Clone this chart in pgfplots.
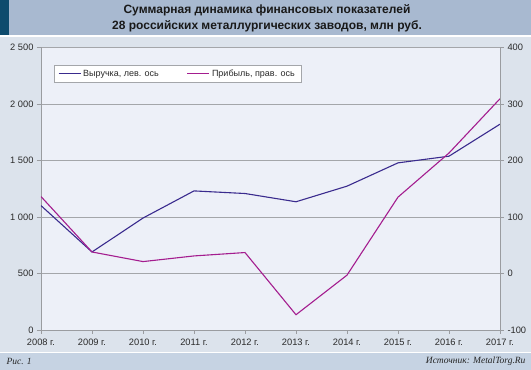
\documentclass[border=0pt]{standalone}
\usepackage{fontspec}
\setmainfont{Liberation Sans}
\newfontfamily\serifit{Liberation Serif}
\usepackage{pgfplots}
\pgfplotsset{compat=1.18}
\definecolor{titleband}{HTML}{A8B9D0}
\definecolor{stripe}{HTML}{0E4B6D}
\definecolor{mainbg}{HTML}{DCE3EC}
\definecolor{footband}{HTML}{C6D3E3}
\definecolor{plotbg}{HTML}{EDF0F8}
\definecolor{gridgray}{HTML}{A4A6AA}
\definecolor{axisgray}{HTML}{9A9CA0}
\definecolor{labelgray}{HTML}{2A2A2A}
\definecolor{revblue}{HTML}{3A2B8E}
\definecolor{profmag}{HTML}{A41D8F}
\pgfplotstableread{
x rev
0 1100
1 690
2 990
3 1230
4 1207
5 1134
6 1272
7 1478
8 1537
9 1820
}\revtable
\pgfplotstableread{
x prof
0 136
1 38
2 21
3 31
4 37
5 -73
6 -3
7 135
8 213
9 309
}\proftable
\begin{document}
\begin{tikzpicture}[x=1pt,y=1pt]
\useasboundingbox (0,0) rectangle (531,370);
\fill[mainbg] (0,0) rectangle (531,370);
\fill[titleband] (0,335) rectangle (531,370);
\fill[stripe] (0,335) rectangle (9,370);
\fill[white] (0,333) rectangle (531,335);
\fill[white] (0,17) rectangle (531,18.2);
\fill[footband] (0,0) rectangle (531,17);
\node[font=\bfseries\fontsize{12}{15.5}\selectfont, align=center, text=black!90] at (267,351.5) {Суммарная динамика финансовых показателей\\28 российских металлургических заводов, млн руб.};
\node[anchor=west, font=\serifit\itshape\fontsize{9.5}{10}\selectfont, text=black!85] at (3,8.3) {Рис. 1};
\node[anchor=east, font=\serifit\itshape\fontsize{9.5}{10}\selectfont, text=black!85] at (529,8.3) {Источник: MetalTorg.Ru};
\begin{axis}[
  at={(41pt,40pt)}, anchor=south west,
  scale only axis, width=459pt, height=282.7pt,
  axis background/.style={fill=plotbg},
  xmin=0, xmax=9, ymin=0, ymax=2500,
  xtick={0,...,9},
  xticklabels={2008 г.,2009 г.,2010 г.,2011 г.,2012 г.,2013 г.,2014 г.,2015 г.,2016 г.,2017 г.},
  ytick={0,500,1000,1500,2000,2500},
  yticklabels={0,500,1 000,1 500,2 000,2 500},
  axis y line*=left, axis x line*=bottom,
  ymajorgrids, grid style={color=gridgray, line width=0.6pt},
  axis line style={-, color=axisgray, line width=0.7pt},
  tick style={color=axisgray, line width=0.6pt},
  major tick length=4pt, tick align=outside,
  ticklabel style={font=\fontsize{9.3}{11}\selectfont, text=labelgray},
  xticklabel style={yshift=-1pt},
  /pgf/number format/assume math mode=true,
  legend style={at={(0.028,0.937)}, anchor=north west, draw=gridgray, fill=white,
    font=\fontsize{9}{10}\selectfont, text=labelgray, inner xsep=4pt, inner ysep=2.5pt,
    /tikz/every even column/.append style={column sep=26pt}},
  legend columns=2, legend cell align=left,
]
\addplot[revblue, line width=1.1pt, forget plot] table[x=x,y=rev] {\revtable};
\addlegendimage{revblue, line width=1.1pt, legend image code/.code={\draw[revblue, line width=1.1pt] (0pt,0pt) -- (22pt,0pt);}}
\addlegendentry{Выручка, лев. ось}
\addlegendimage{profmag, line width=1.1pt, legend image code/.code={\draw[profmag, line width=1.1pt] (0pt,0pt) -- (22pt,0pt);}}
\addlegendentry{Прибыль, прав. ось}
\end{axis}
\begin{axis}[
  at={(41pt,40pt)}, anchor=south west,
  scale only axis, width=459pt, height=282.7pt,
  xmin=0, xmax=9, ymin=-100, ymax=400,
  axis x line=none, axis y line*=right,
  ytick={-100,0,100,200,300,400},
  yticklabels={-100,0,100,200,300,400},
  axis line style={-, color=axisgray, line width=0.7pt},
  tick style={color=axisgray, line width=0.6pt},
  major tick length=4pt, tick align=outside,
  ticklabel style={font=\fontsize{9.3}{11}\selectfont, text=labelgray},
  /pgf/number format/assume math mode=true,
]
\addplot[profmag, line width=1.1pt] table[x=x,y=prof] {\proftable};
\end{axis}
\end{tikzpicture}
\end{document}
